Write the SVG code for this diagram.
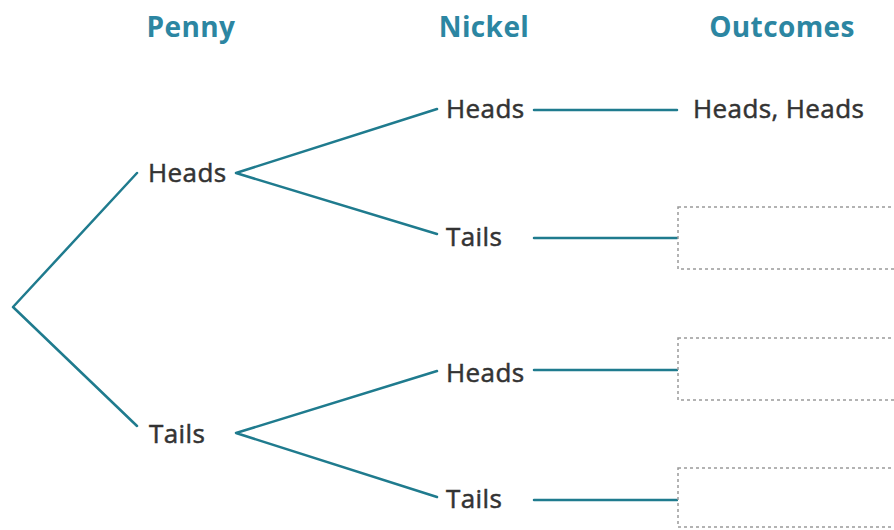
<svg xmlns="http://www.w3.org/2000/svg" width="894" height="530" viewBox="0 0 894 530">
<style>
.title{font-family:"Open Sans","Liberation Sans",sans-serif;font-weight:bold;font-size:28px;letter-spacing:0.4px;fill:#2c86a2;text-anchor:middle}
.lbl{font-family:"Open Sans","Liberation Sans",sans-serif;font-size:26px;letter-spacing:0.4px;fill:#333;stroke:#333;stroke-width:0.5}
.br{stroke:#1f7b8e;stroke-width:2.5;fill:none;stroke-linecap:round;stroke-linejoin:round}
.box{fill:#fff;stroke:#9a9a9a;stroke-width:1.5;stroke-dasharray:3 3}
</style>
<rect width="894" height="530" fill="#fff"/>
<g id="headers">
<text class="title" x="191" y="37">Penny</text>
<text class="title" x="484" y="37">Nickel</text>
<text class="title" x="782" y="37">Outcomes</text>
</g>
<g id="connectors">
<polyline class="br" points="137,173 13,307 137,426"/>
<polyline class="br" points="437,109 236,173 437,234"/>
<polyline class="br" points="437,371 236,433 437,497"/>
<line class="br" x1="534" y1="110" x2="677" y2="110"/>
<line class="br" x1="534" y1="238" x2="677" y2="238"/>
<line class="br" x1="534" y1="370" x2="677" y2="370"/>
<line class="br" x1="534" y1="500" x2="677" y2="500"/>
</g>
<g id="penny-heads"><text class="lbl" x="148" y="182">Heads</text></g>
<g id="penny-tails"><text class="lbl" x="149" y="443">Tails</text></g>
<g id="nickel-heads-1"><text class="lbl" x="446" y="118">Heads</text></g>
<g id="nickel-tails-1"><text class="lbl" x="446" y="246">Tails</text></g>
<g id="nickel-heads-2"><text class="lbl" x="446" y="382">Heads</text></g>
<g id="nickel-tails-2"><text class="lbl" x="446" y="508">Tails</text></g>
<g id="outcome-1"><text class="lbl" x="693" y="118">Heads, Heads</text></g>
<g id="outcome-2"><rect class="box" x="678" y="207" width="230" height="62"/></g>
<g id="outcome-3"><rect class="box" x="678" y="338" width="230" height="62"/></g>
<g id="outcome-4"><rect class="box" x="678" y="468" width="230" height="59"/></g>
</svg>
